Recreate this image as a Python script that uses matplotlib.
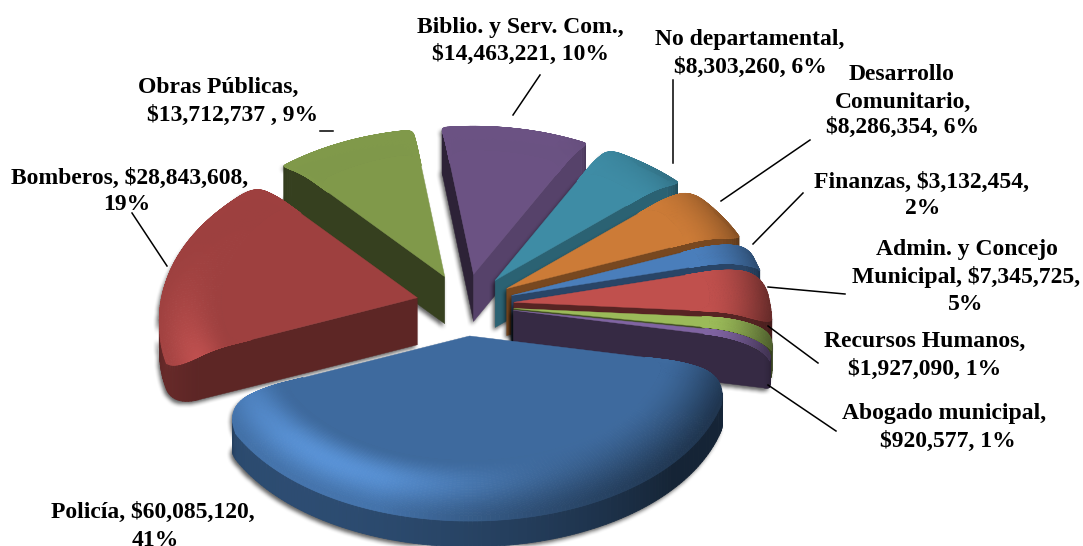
import numpy as np
import matplotlib
matplotlib.use("Agg")
import matplotlib.pyplot as plt
from matplotlib.collections import PolyCollection
from matplotlib.path import Path
from matplotlib.colors import to_rgb

names = ["Policía", "Bomberos", "Obras Públicas", "Biblio. y Serv. Com.", "No departamental",
         "Desarrollo Comunitario", "Finanzas", "Admin. y Concejo Municipal",
         "Recursos Humanos", "Abogado municipal"]
values = [60085120, 28843608, 13712737, 14463221, 8303260,
          8286354, 3132454, 7345725, 1927090, 920577]
top_colors = ["#3e6a9e", "#9e403f", "#80994a", "#6b5283", "#3e8ca5",
              "#cc7b37", "#4a7ebb", "#c0504d", "#9bbb59", "#8064a2"]

label_lines = [
    ["Policía, $60,085,120,", "41%"],
    ["Bomberos, $28,843,608,", "19%"],
    ["Obras Públicas,", "$13,712,737 , 9%"],
    ["Biblio. y Serv. Com.,", "$14,463,221, 10%"],
    ["No departamental,", "$8,303,260, 6%"],
    ["Desarrollo", "Comunitario,", "$8,286,354, 6%"],
    ["Finanzas, $3,132,454,", "2%"],
    ["Admin. y Concejo", "Municipal, $7,345,725,", "5%"],
    ["Recursos Humanos,", "$1,927,090, 1%"],
    ["Abogado municipal,", "$920,577, 1%"],
]
label_xy = [
    [(153, 512), (155, 540)],
    [(130, 178), (127, 205)],
    [(218, 87), (233, 115)],
    [(520, 27), (520, 54)],
    [(750, 40), (750, 67)],
    [(902, 75), (903, 102), (903, 127)],
    [(921, 182), (923, 208)],
    [(967, 249), (966, 277), (966, 305)],
    [(925, 341), (925, 369)],
    [(944, 413), (948, 441)],
]
leaders = [
    ((132, 213), (167, 266)),
    ((320, 131), (333, 131)),
    ((540, 75), (513, 115)),
    ((673, 80), (673, 163)),
    ((810, 140), (721, 201)),
    ((803, 193), (753, 244)),
    ((845, 294), (768, 287)),
    ((818, 363), (768, 326)),
    ((836, 431), (768, 385)),
]

CX, CY = 465, 352
RADIUS = 258
SQUASH = 0.635
HEIGHT = 47
EXPLODE = 0.19
START_ANGLE = -11
FRONT_WIDEN = 0.04
CORE = 0.76
RIM_Z = 0.55
CORNER = 0.1
CORNER_PTS = 14


def project(x, y, z):
    widen = 1 - FRONT_WIDEN * np.minimum(y, 0)
    return np.column_stack([CX + RADIUS * x * widen, CY - RADIUS * SQUASH * y - HEIGHT * z])


def bevel_height(rho):
    t = np.clip((rho - CORE) / (1 - CORE), 0, 1)
    return 1 - (1 - RIM_Z) * (1 - np.sqrt(1 - t ** 2))


def rim_outline(a0, a1):
    # arc from a0 down to a1 with the two outer corners rounded off
    span = a0 - a1
    d = min(np.radians(6), span * 0.3)
    c = min(CORNER, span * 0.5)
    s = np.linspace(0, 1, CORNER_PTS)[:, None]

    def unit(a):
        return np.array([np.cos(a), np.sin(a)])

    p0, p1, p2 = (1 - c) * unit(a0), unit(a0), unit(a0 - d)
    first = (1 - s) ** 2 * p0 + 2 * s * (1 - s) * p1 + s ** 2 * p2
    p0, p1, p2 = unit(a1 + d), unit(a1), (1 - c) * unit(a1)
    last = (1 - s) ** 2 * p0 + 2 * s * (1 - s) * p1 + s ** 2 * p2
    mid = np.linspace(a0 - d, a1 + d, max(int((span - 2 * d) * 60), 3))
    arc = np.column_stack([np.cos(mid), np.sin(mid)])
    return np.vstack([first, arc[1:-1], last])


def mix(c1, c2, w):
    w = np.clip(w, 0, 1)[..., None]
    return np.array(c1) * (1 - w) + np.array(c2) * w


def quads_from_grid(pts):
    a = pts[:-1, :-1]
    b = pts[:-1, 1:]
    c = pts[1:, 1:]
    d = pts[1:, :-1]
    return np.stack([a, b, c, d], axis=2).reshape(-1, 4, 2)


def draw_mesh(ax, quads, colors, zorder):
    ax.add_collection(PolyCollection(quads, facecolors=colors, edgecolors=colors,
                                     linewidths=0.6, zorder=zorder))


def add_shadow(ax, polys, zorder):
    # soft shadow under a slice, blurred from a rasterised silhouette
    gx, gy = np.meshgrid(np.arange(1083) + 0.5, np.arange(546) + 0.5)
    pts = np.column_stack([gx.ravel(), gy.ravel()])
    mask = np.zeros(gx.shape)
    for poly in polys:
        mask = np.maximum(mask, Path(poly).contains_points(pts).reshape(gx.shape))
    mask = np.roll(np.roll(mask, 3, axis=0), -2, axis=1)
    mask[:3] = 0
    kernel = np.ones(5) / 5
    for _ in range(2):
        mask = np.apply_along_axis(lambda m: np.convolve(m, kernel, mode="same"), 0, mask)
        mask = np.apply_along_axis(lambda m: np.convolve(m, kernel, mode="same"), 1, mask)
    rgba = np.zeros(gx.shape + (4,))
    rgba[..., 3] = mask * 0.62
    ax.imshow(rgba, extent=(0, 1083, 546, 0), zorder=zorder, interpolation="bilinear")


def face_shade(normal):
    n = (np.degrees(normal) + 180) % 360 - 180
    return 0.42 + 0.38 * max(0, (n + 100) / 71) if n < 0 else 0.42


def draw_slice(ax, a0, a1, color, zorder):
    base = np.array(to_rgb(color))
    light = np.minimum(base * 1.3 + 0.03, 1)
    dark = base * 0.36
    bis = (a0 + a1) / 2
    off = EXPLODE * np.array([np.cos(bis), np.sin(bis)])
    outline = rim_outline(a0, a1)
    px, py = outline[:, 0], outline[:, 1]
    rho = np.hypot(px, py)
    shade0 = face_shade(a0 + np.pi / 2)
    shade1 = face_shade(a1 - np.pi / 2)

    # outer wall, only where it faces the viewer
    rim_top = project(px + off[0], py + off[1], bevel_height(rho))
    rim_bot = project(px + off[0], py + off[1], np.zeros_like(px))
    phi = np.arctan2(py, px)
    glow = np.clip(np.cos(phi + np.radians(130)), 0, 1)
    wall_col = mix(dark * 0.95, base * 0.72, glow)
    n = len(px)
    ramp0 = np.clip(1 - np.arange(n) / CORNER_PTS, 0, 1)
    ramp1 = np.clip(1 - (n - 1 - np.arange(n)) / CORNER_PTS, 0, 1)
    wall_col = mix(wall_col, np.tile(base * shade0, (n, 1)), ramp0)
    wall_col = mix(wall_col, np.tile(base * shade1, (n, 1)), ramp1)
    wall = np.stack([rim_top, rim_bot], axis=0)
    facing = np.diff(px) < 0
    draw_mesh(ax, quads_from_grid(wall)[facing], wall_col[:-1][facing], zorder + 0.2)

    # cut faces, skipping the one turned away
    for end, shade, normal in ((outline[0], shade0, a0 + np.pi / 2), (outline[-1], shade1, a1 - np.pi / 2)):
        if np.sin(normal) >= 0:
            continue
        s = np.linspace(0, 1, 12)
        ex, ey = end[0] * s + off[0], end[1] * s + off[1]
        top_edge = project(ex, ey, bevel_height(np.hypot(end[0] * s, end[1] * s)))
        bottom_edge = project(ex, ey, np.zeros_like(s))
        ax.fill(*np.vstack([top_edge, bottom_edge[::-1]]).T, color=base * shade, lw=0.3,
                zorder=zorder + 0.25)

    # flat part of the top
    core = np.vstack([[0, 0], outline * CORE])
    ax.fill(*project(core[:, 0] + off[0], core[:, 1] + off[1], np.ones(len(core))).T,
            color=base, lw=0.3, zorder=zorder + 0.3)

    # bevel: bright towards the front left, dark towards the right
    rings = np.linspace(CORE, 1, 40)
    gx = np.outer(rings, px)
    gy = np.outer(rings, py)
    gz = bevel_height(np.hypot(gx, gy))
    grid = project(gx.ravel() + off[0], gy.ravel() + off[1], gz.ravel()).reshape(len(rings), len(px), 2)
    t = np.clip((np.hypot(gx, gy) - CORE) / (1 - CORE), 0, 1)[:-1, :-1]
    ang = np.arctan2(gy, gx)[:-1, :-1]
    hi = np.clip(np.cos(ang + np.radians(125)), 0, 1) ** 3 * np.sin(np.pi * t * 0.85) ** 2
    lo = np.clip(np.cos(ang + np.radians(20)), 0, 1) * t ** 1.6 * 0.8
    col = mix(mix(base, light, hi), dark, lo)
    draw_mesh(ax, quads_from_grid(grid), col.reshape(-1, 3), zorder + 0.4)

    silhouette = [project(core[:, 0] + off[0], core[:, 1] + off[1], np.ones(len(core))),
                  np.vstack([rim_top, rim_bot[::-1]]),
                  np.vstack([project(off[:1], off[1:], 1), project(off[:1], off[1:], 0), rim_bot[:1], rim_top[:1]]),
                  np.vstack([project(off[:1], off[1:], 1), project(off[:1], off[1:], 0), rim_bot[-1:], rim_top[-1:]])]
    add_shadow(ax, silhouette, zorder)


fig = plt.figure(figsize=(10.83, 5.46), dpi=100)
ax = fig.add_axes([0, 0, 1, 1])

fractions = np.array(values) / sum(values)
edges = np.radians(START_ANGLE) - 2 * np.pi * np.concatenate([[0], np.cumsum(fractions)])
mids = (edges[:-1] + edges[1:]) / 2

# back slices first so the front ones paint over them
order = np.argsort(-np.sin(mids))
for rank, i in enumerate(order):
    draw_slice(ax, edges[i], edges[i + 1], top_colors[i], 2 + rank)

ax.set_xlim(0, 1083)
ax.set_ylim(546, 0)
ax.axis("off")

for start, end in leaders:
    ax.plot([start[0], end[0]], [start[1], end[1]], color="black", lw=1.1, zorder=30)

for lines, spots in zip(label_lines, label_xy):
    for line, (x, y) in zip(lines, spots):
        ax.text(x, y, line, ha="center", va="center", fontsize=17.0, fontweight="bold",
                family="Liberation Serif", color="black", zorder=31)

fig.savefig("out.png", dpi=100)
